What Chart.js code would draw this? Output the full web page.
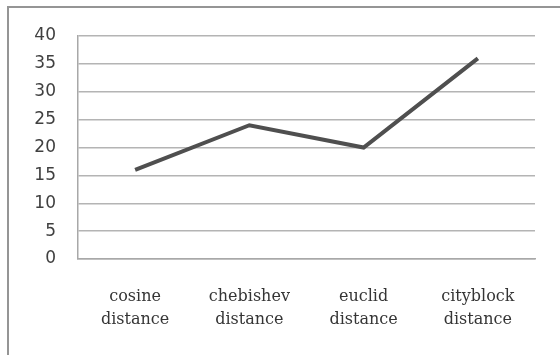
<!DOCTYPE html>
<html>
<head>
<meta charset="utf-8">
<script src="https://cdn.jsdelivr.net/npm/chart.js@4/dist/chart.umd.min.js"></script>
<style>
  html, body { margin: 0; padding: 0; background: #fff; }
  #wrap { position: relative; width: 560px; height: 355px; overflow: hidden; }
  #frame { position: absolute; left: 7px; top: 6px; width: 600px; height: 400px;
           border-left: 2px solid #959595; border-top: 2px solid #959595; }
  canvas { position: absolute; left: 0; top: 0; }
</style>
</head>
<body>
<div id="wrap">
  <div id="frame"></div>
  <canvas id="chart" width="560" height="355"></canvas>
</div>
<script>
const categories = [
  ['cosine', 'distance'],
  ['chebishev', 'distance'],
  ['euclid', 'distance'],
  ['cityblock', 'distance']
];
const values = [16, 24, 20, 36];
const yMin = 0, yMax = 40, yStep = 5;

const ctx = document.getElementById('chart').getContext('2d');

new Chart(ctx, {
  type: 'line',
  data: {
    labels: categories,
    datasets: [{
      data: values,
      borderColor: '#4f4f4f',
      borderWidth: 4,
      pointRadius: 0,
      tension: 0,
      fill: false
    }]
  },
  options: {
    responsive: false,
    animation: false,
    layout: { padding: { left: 0, right: 25, top: 36, bottom: 0 } },
    plugins: { legend: { display: false }, tooltip: { enabled: false } },
    scales: {
      x: {
        offset: true,
        grid: { display: false, drawTicks: false },
        border: { display: true, color: '#a8a8a8', width: 1.5 },
        ticks: {
          padding: 26,
          maxRotation: 0,
          autoSkip: false,
          color: '#353535',
          font: { family: 'DejaVu Serif', size: 16, lineHeight: 1.44 }
        },
        afterFit: s => { s.height = 96; }
      },
      y: {
        min: yMin,
        max: yMax,
        grid: { color: '#b4b4b4', lineWidth: 1.5, drawTicks: false },
        border: { display: true, color: '#a8a8a8', width: 1.5 },
        ticks: {
          stepSize: yStep,
          padding: 22,
          color: '#404040',
          font: { family: 'DejaVu Sans', size: 17 }
        },
        afterFit: s => { s.width = 78; }
      }
    }
  }
});
</script>
</body>
</html>
